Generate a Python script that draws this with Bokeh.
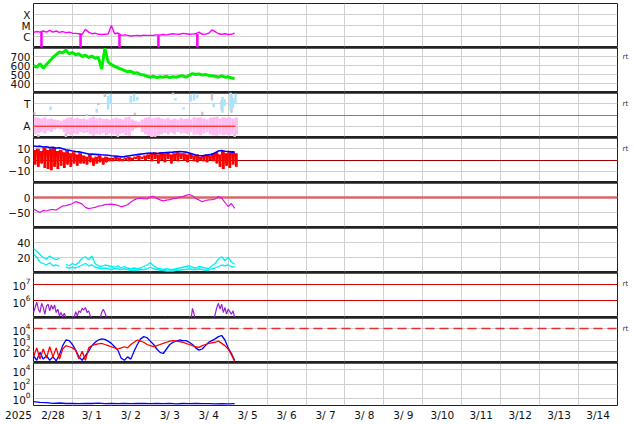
import numpy as np
from bokeh.plotting import figure
from bokeh.layouts import column
from bokeh.models import FixedTicker, Range1d, LinearAxis, LogAxis
from bokeh.embed import file_html
from bokeh.resources import INLINE

# ---------------- data (hours since 2025-02-28 00:00 UT) ----------------
day_grid = list(range(1, 15))
day_label_pos = [i + 0.5 for i in range(15)]
day_labels = ["2/28"] + ["3/%2d" % d for d in range(1, 15)]
year_label = "2025"

# X-ray flux (log10 W/m2), 2-hour steps
xray_log = [-5.62, -5.55, -5.6, -5.5, -5.6, -5.45, -5.6, -5.5, -5.62, -5.55, -5.65, -5.6, -5.7, -5.72,
            -5.75, -5.8, -5.35, -5.6, -5.75, -5.7, -5.8, -5.82, -5.8, -5.78, -5.0, -5.75, -5.68, -5.9,
            -5.85, -5.9, -5.95, -5.92, -5.9, -5.93, -5.88, -5.9, -5.9, -5.88, -5.85, -5.85, -5.82, -5.85,
            -5.8, -5.75, -5.78, -5.8, -5.72, -5.75, -5.8, -5.78, -5.75, -5.6, -5.8, -5.78, -5.7, -5.4,
            -5.55, -5.75, -5.8, -5.75, -5.82, -5.8, -5.7]
xray_dip_hours = [4.9, 29.0, 53.0, 77.0, 101.0]
xray_dip_top = [-5.6, -5.75, -5.75, -5.88, -5.78]

# Solar wind speed (km/s), 2-hour steps
speed = [600, 580, 620, 570, 610, 650, 690, 720, 750, 740, 770, 730, 745, 720, 730, 700, 715, 690,
         705, 680, 690, 560, 790, 640, 610, 590, 575, 560, 545, 530, 535, 515, 520, 500, 495, 480,
         470, 480, 465, 475, 470, 480, 465, 475, 470, 480, 485, 470, 490, 510, 500, 505, 495, 500,
         490, 485, 480, 470, 485, 470, 475, 460, 455]

# IMF sector (A=1, T=3): away band (pink) lo/hi, 2-hour bins
pink_hi = [1.8, 1.75, 1.7, 1.8, 1.65, 1.7, 1.6, 1.55, 1.5, 1.6, 1.75, 1.8, 1.7, 1.75, 1.65, 1.7,
           1.6, 1.75, 1.85, 1.7, 1.75, 1.65, 1.7, 1.6, 1.7, 1.75, 1.7, 1.6, 1.8, 1.85, 1.6, 1.5,
           1.4, 1.6, 1.75, 1.8, 1.7, 1.75, 1.8, 1.7, 1.65, 1.75, 1.6, 1.7, 1.6, 1.75, 1.65, 1.7,
           1.6, 1.8, 1.75, 1.8, 1.7, 1.6, 1.75, 1.8, 1.85, 1.7, 1.8, 1.75, 1.8, 1.7, 1.8]
pink_lo = [0.3, 0.4, 0.5, 0.35, 0.6, 0.5, 0.7, 0.8, 0.75, 0.5, 0.3, 0.2, 0.35, 0.3, 0.5, 0.4,
           0.45, 0.3, 0.15, 0.3, 0.25, 0.4, 0.2, 0.35, 0.3, 0.25, 0.3, 0.4, 0.2, 0.15, 0.6, 0.8,
           0.9, 0.5, 0.3, 0.15, 0.05, 0.2, 0.15, 0.3, 0.4, 0.3, 0.45, 0.3, 0.5, 0.35, 0.4, 0.3,
           0.5, 0.25, 0.3, 0.2, 0.35, 0.5, 0.3, 0.2, 0.15, 0.3, 0.2, 0.25, 0.2, 0.3, 0.25]
toward_hours = [10.5, 39.0, 46.0, 47.5, 60.0, 62.0, 64.0, 87.5, 92.5, 97.0, 99.0, 101.0, 111.0,
                116.5, 117.8, 121.5, 123.0, 124.5]
toward_lo = [2.45, 2.2, 2.5, 3.0, 3.1, 3.2, 3.3, 3.3, 2.5, 3.2, 3.3, 3.5, 2.7, 2.2, 2.8, 2.4, 2.6, 3.0]
toward_hi = [2.75, 2.55, 3.7, 3.9, 3.7, 3.9, 3.6, 3.5, 2.7, 3.8, 3.9, 3.8, 3.1, 3.6, 3.4, 4.0, 3.5, 3.9]
gray_hours = [0.5, 3.0, 20.0, 33.0, 40.0, 44.0, 52.0, 62.5, 75.0, 86.0, 104.0, 110.0, 116.0, 122.0, 124.0]
gray_lo = [2.0, 0.0, 0.0, 1.9, 2.9, 3.6, 0.0, 2.0, 0.0, 3.8, 2.0, 3.3, 2.4, 2.2, 0.0]
gray_hi = [2.3, 0.3, 0.4, 2.1, 3.1, 3.9, 0.3, 2.2, 0.35, 4.0, 2.3, 3.9, 3.3, 3.8, 0.4]
sector_level = 1.0

# IMF Bt (nT), 2-hour steps
bt = [12.5, 12.0, 12.3, 11.5, 11.8, 11.0, 11.2, 10.6, 10.8, 10.0, 9.0, 8.6, 8.0, 7.5, 7.2, 6.6,
      6.0, 5.4, 5.2, 5.0, 4.8, 4.6, 4.5, 4.2, 3.8, 3.6, 3.2, 2.8, 3.0, 3.6, 4.0, 4.4, 4.8, 5.2,
      5.6, 6.0, 6.2, 6.0, 5.8, 6.2, 6.4, 6.6, 6.8, 7.0, 7.3, 7.6, 7.4, 7.0, 6.2, 5.4, 4.4, 4.0,
      3.8, 4.2, 4.6, 5.0, 6.5, 8.0, 8.4, 7.8, 7.6, 7.2, 6.8]
# IMF Bz (nT), high / low of each 2-hour bin
bz_hi = [9, 10, 8, 11, 9, 10, 11, 8, 9, 7, 8, 6, 7, 5, 6,
         4, 3, 5, 2, 3, 4, 2, 3, 2,
         2, 3, 2, 1, 2, 3, 2, 3, 4, 3, 4, 5,
         6, 7, 5, 7, 6, 7, 5, 6, 7, 6,
         6, 5, 6, 4, 5, 3, 4, 5, 4, 6,
         7, 5, 8, 6, 7, 8, 6]
bz_lo = [-4, -6, -3, -7, -8, -9, -6, -8, -5, -7, -4, -6, -3, -5, -3,
         -3, -4, -2, -5, -3, -2, -4, -2, -1,
         -1, 0, -1, -1, 0, -1, 0, 1, 0, 1, 0, 1,
         -1, 1, -3, 0, -2, 1, -3, 0, -1, 1,
         0, -2, 1, -1, -2, 0, -1, -2, 0, -1,
         -3, -6, -8, -5, -7, -4, -6]

# Dst (nT), 2-hour steps
dst = [-38, -44, -50, -43, -45, -41, -40, -42, -35, -28, -27, -24, -20, -14, -17, -22, -33, -37,
       -35, -33, -29, -27, -24, -23, -22, -24, -26, -31, -28, -24, -15, -8, -4, -2, -4, -5, 2, 4,
       -3, -8, -11, -9, -7, -4, -2, 1, 3, 7, 10, 6, -3, -8, -14, -10, -8, -7, -5, 3, -2, -16, -30,
       -20, -36]

# cyan series (two sources), 2-hour steps
cyan_a = [32, 28, 24, 20, 18, 22, 19, 17, 19, np.nan, 11, 9, 12, 10, 14, 19, 21, 17, 22, 12, 9, 8,
          10, 9, 8, 7, 9, 6, 8, 6, 5, 6, 5, 6, 8, 10, 13, 9, 6, 5, 4, 5, 4, 4, 5, 6, 7, 8, 9, 7, 6,
          8, 7, 6, 5, 9, 12, 18, 21, 16, 20, 14, 11]
cyan_b = [25, 20, 14, 12, 10, 13, 9, 10, 8, np.nan, 7, 6, 7, 6, 8, 10, 12, 9, 10, 7, 6, 5, 6, 5,
          4, 5, 5, 4, 5, 4, 3, 3, 3, 4, 4, 5, 7, 5, 4, 3, 3, 2, 2, 2, 3, 3, 4, 4, 5, 4, 4, 5, 4, 3,
          3, 5, 6, 8, 10, 9, 10, 8, 7]

# >2 MeV electrons (log10), 1-hour steps
electron_log = [5.3, 5.6, 5.92, 5.5, 5.3, 5.85, 5.6, 5.2, 5.7, 5.8, 5.4, 5.75, 5.5, 5.75, 5.3, 5.5,
                5.1, 5.3, 5.05, 5.25, 5.0, 4.9, 5.0, 4.9, 5.0, 4.95, 5.35, 5.1, 5.4, 5.3, 5.55, 5.45,
                5.6, 5.3, 5.4, 5.1, 5.0, 4.9, 4.9, 4.9, 4.9, 4.9, 5.3, 5.5, 5.3, 5.0,
                4.8, 4.8, 4.8, 4.8, 4.8, 4.8, 4.8, 4.8, 4.8, 4.8, 4.8, 4.8, 4.8, 4.8, 4.8, 4.8,
                4.8, 4.8, 4.8, 4.8, 4.8, 4.8, 4.8, 4.8, 5.05, 4.8, 4.8, 4.8, 4.8, 4.8, 4.8, 4.8,
                4.8, 4.8, 4.8, 5.05, 4.8, 4.8, 4.8, 4.8, 4.8, 4.8, 4.8, 4.8, 4.8, 4.8, 4.8, 4.8,
                4.8, 4.8, 4.8, 4.8, 5.55, 5.2, 4.8, 4.8, 4.8, 4.8, 4.8, 4.8, 4.8, 4.8, 4.8, 4.8,
                4.8, 4.8, 5.2, 5.6, 5.85, 5.5, 5.8, 5.3, 5.6, 5.2, 5.5, 5.35, 5.2, 5.4, 5.0]
electron_levels = [1e6, 1e7]

# protons (log10), 2-hour steps
proton_blue = [1.6, 1.2, 1.9, 1.3, 1.6, 1.2, 1.5, 1.15, 1.7, 2.5, 3.0, 2.95, 2.6, 2.1, 1.5, 1.2,
               1.6, 2.0, 2.5, 2.8, 3.0, 3.1, 3.05, 2.9, 2.7, 2.4, 2.1, 1.4, 1.2, 1.5, 1.3, 2.0,
               2.6, 3.1, 3.3, 3.2, 2.9, 2.6, 2.2, 1.9, 1.8, 2.2, 2.6, 2.8, 2.9, 3.0, 2.95, 2.95,
               2.8, 2.6, 2.3, 2.1, 2.2, 2.5, 2.8, 2.95, 3.1, 3.3, 3.4, 3.0, 2.3, 1.8, 1.2]
proton_red = [1.5, 2.3, 1.3, 2.2, 1.4, 2.4, 1.5, 2.3, 1.3, 2.2, 2.5, 2.4, 2.3, 2.1, 1.3, 2.0,
              1.2, 2.3, 2.5, 2.6, 2.65, 2.7, 2.6, 2.5, 2.4, 2.3, 2.2, 2.3, 2.4, 2.3, 2.6, 2.8,
              3.0, 2.9, 2.8, 2.6, 2.5, 2.4, 2.5, 2.6, 2.7, 2.8, 2.9, 2.95, 2.9, 2.85, 2.8, 2.7,
              2.6, 2.5, 2.4, 2.35, 2.5, 2.6, 2.7, 2.75, 2.8, 2.9, 2.7, 2.5, 2.2, 1.7, 1.1]
proton_level = 1e4

# bottom panel (log10), 4-hour steps
bottom_log = [-0.45, -0.55, -0.6, -0.7, -0.65, -0.72, -0.7, -0.75, -0.7, -0.72, -0.68, -0.74,
              -0.7, -0.73, -0.7, -0.75, -0.72, -0.7, -0.74, -0.71, -0.73, -0.7, -0.76, -0.72,
              -0.74, -0.71, -0.75, -0.73, -0.76, -0.74, -0.77, -0.75]

rt_text = "rt"

# ---------------- styling ----------------
FONT = "DejaVu Sans"
FS = "10.5px"
W = 634
LEFT = 33
RIGHT = 17
TOP = 3
BOTTOM = 16
GRID = "#d0d0d0"
NBSP = "\u00a0"


def hrs(n, step):
    return [i * step / 24.0 for i in range(n)]


def style_axis(ax, size=FS, standoff=3):
    ax.axis_line_color = None
    ax.major_tick_out = 0
    ax.major_tick_in = 0
    ax.minor_tick_line_color = None
    ax.major_label_standoff = standoff
    ax.major_label_text_font = FONT
    ax.major_label_text_font_size = size
    ax.major_label_text_color = "#111111"


def panel(h, yr, ytype, ticks, overrides=None, last=False, first=False, rt_at=None):
    p = figure(width=W, height=h + (BOTTOM if last else 0) + (TOP if first else 0),
               x_range=Range1d(0, 15), y_range=Range1d(*yr), y_axis_type=ytype,
               x_axis_location="below" if last else None,
               output_backend="svg", toolbar_location=None, title=None,
               min_border_left=LEFT, min_border_right=RIGHT,
               min_border_top=TOP if first else 0,
               min_border_bottom=BOTTOM if last else 0)
    p.outline_line_color = "#222222"
    p.outline_line_width = 1
    p.xgrid.ticker = FixedTicker(ticks=day_grid)
    p.xgrid.grid_line_color = GRID
    p.ygrid.grid_line_color = GRID
    ax = p.yaxis[0]
    ax.ticker = FixedTicker(ticks=ticks)
    style_axis(ax)
    if overrides:
        ax.major_label_overrides = overrides
    if rt_at is not None:
        cls = LogAxis if ytype == "log" else LinearAxis
        rax = cls(ticker=FixedTicker(ticks=[rt_at]), major_label_overrides={rt_at: rt_text})
        style_axis(rax, size="7px", standoff=5)
        rax.major_label_text_color = "#333333"
        p.add_layout(rax, "right")
    # thick separators between panels
    if not first:
        p.hspan(y=[yr[1]], line_color="#222222", line_width=2.5)
    if not last:
        p.hspan(y=[yr[0]], line_color="#222222", line_width=2.5)
    if last:
        xa = p.xaxis[0]
        ticks_x = [0.0] + day_label_pos
        labels_x = [year_label + NBSP * 9] + day_labels
        xa.ticker = FixedTicker(ticks=ticks_x)
        xa.major_label_overrides = {pos: lab for pos, lab in zip(ticks_x, labels_x)}
        style_axis(xa)
    return p


figs = []

# 1 X-ray
p1 = panel(44, (1e-7, 1e-3), "log", [1e-6, 1e-5, 1e-4],
           {1e-6: "C", 1e-5: "M", 1e-4: "X"}, first=True)
p1.line(hrs(len(xray_log), 2), [10 ** v for v in xray_log], color="#ff00ff", line_width=1.4)
p1.segment(x0=[h / 24 for h in xray_dip_hours], y0=[10 ** v for v in xray_dip_top],
           x1=[h / 24 for h in xray_dip_hours], y1=[1e-8] * len(xray_dip_hours),
           color="#ff00ff", line_width=2.5)
figs.append(p1)

# 2 speed
p2 = panel(45, (300, 800), "linear", [400, 500, 600, 700], rt_at=700)
p2.line(hrs(len(speed), 2), speed, color="#00ee00", line_width=3.0)
figs.append(p2)

# 3 sector
p3 = panel(45, (0, 4), "linear", [1, 3], {1: "A", 3: "T"}, rt_at=3)
p3.hspan(y=[2], line_color="#808080", line_width=1)
p3.segment(x0=[h / 24 for h in gray_hours], y0=gray_lo, x1=[h / 24 for h in gray_hours], y1=gray_hi,
           color="#c8c8c8", line_width=2.5)
p3.vbar(x=[(2 * i + 1) / 24 for i in range(len(pink_hi))], width=2 / 24, bottom=pink_lo, top=pink_hi,
        fill_color="#ffbcf2", line_color=None)
p3.segment(x0=[h / 24 for h in toward_hours], y0=toward_lo, x1=[h / 24 for h in toward_hours],
           y1=toward_hi, color="#a8e4ff", line_width=2.5)
p3.line([0, 124.5 / 24], [sector_level, sector_level], color="#ff4040", line_width=1.3)
figs.append(p3)

# 4 IMF
p4 = panel(45, (-20, 20), "linear", [-10, 0, 10], rt_at=10)
p4.hspan(y=[0], line_color="#a00000", line_width=1)
p4.vbar(x=[(2 * i + 1) / 24 for i in range(len(bz_hi))], width=1.8 / 24, bottom=bz_lo, top=bz_hi,
        fill_color="#ff0000", line_color=None)
bz_t, bz_v = [], []
for i, (hi, lo) in enumerate(zip(bz_hi, bz_lo)):
    bz_t += [2 * i / 24, (2 * i + 1) / 24]
    bz_v += [hi, lo]
p4.line(bz_t, bz_v, color="#ff0000", line_width=1.0)
p4.line(hrs(len(bt), 2), bt, color="#0000ff", line_width=1.6)
figs.append(p4)

# 5 Dst
p5 = panel(45, (-100, 50), "linear", [-50, 0])
p5.hspan(y=[0], line_color="#d86868", line_width=2.5)
p5.line(hrs(len(dst), 2), dst, color="#e010e0", line_width=1.2)
figs.append(p5)

# 6 cyan
p6 = panel(45, (0, 60), "linear", [20, 40])
p6.line(hrs(len(cyan_a), 2), cyan_a, color="#00f0f0", line_width=1.3)
p6.line(hrs(len(cyan_b), 2), cyan_b, color="#00f0f0", line_width=1.3)
figs.append(p6)

# 7 electrons
p7 = panel(45, (1e5, 10 ** 7.7), "log", [1e6, 1e7], rt_at=1e7)
p7.hspan(y=electron_levels, line_color="#cc0000", line_width=1.2)
p7.line(hrs(len(electron_log), 1), [10 ** v for v in electron_log], color="#9a20cc", line_width=1.2)
figs.append(p7)

# 8 protons
p8 = panel(45, (10, 1e5), "log", [1e2, 1e3, 1e4], rt_at=1e4)
p8.hspan(y=[proton_level], line_color="#e03030", line_width=1.5, line_dash="9 5")
p8.line(hrs(len(proton_blue), 2), [10 ** v for v in proton_blue], color="#0000ff", line_width=1.3)
p8.line(hrs(len(proton_red), 2), [10 ** v for v in proton_red], color="#ff0000", line_width=1.3)
figs.append(p8)

# 9 bottom
p9 = panel(45, (0.1, 1e5), "log", [1, 1e2, 1e4], last=True)
p9.line(hrs(len(bottom_log), 4), [10 ** v for v in bottom_log], color="#0000ff", line_width=1.3)
figs.append(p9)

layout = column(*figs, spacing=0)
open("out.html", "w").write(file_html(layout, INLINE))
